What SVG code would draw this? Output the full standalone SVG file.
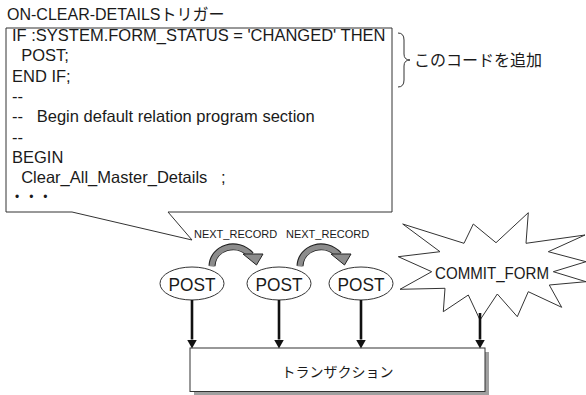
<svg xmlns="http://www.w3.org/2000/svg" width="586" height="395" viewBox="0 0 586 395">
  <style>
    .lat { font-family: "Liberation Sans", Arial, "Noto Sans CJK JP", sans-serif; fill: #1a1a1a; }
    .jp { font-family: "Noto Sans CJK JP", "Liberation Sans", sans-serif; fill: #1a1a1a; }
    .code { font-size: 16.5px; white-space: pre; }
    .frame { fill: #fff; stroke: #333; stroke-width: 1; }
    .flow { stroke: #111; stroke-width: 2.6; fill: none; }
    .bend-edge { fill: none; stroke: #222; stroke-width: 7; }
    .bend-core { fill: none; stroke: #8c8c8c; stroke-width: 5; }
    .bend-head { fill: #8c8c8c; stroke: #222; stroke-width: 1; stroke-linejoin: round; }
  </style>
  <defs>
    <marker id="head" markerUnits="userSpaceOnUse" markerWidth="11" markerHeight="11" refX="0" refY="5" orient="auto">
      <path d="M0,0 L9,5 L0,10 Z" fill="#111"/>
    </marker>
    <!-- curved gray step arrow between records -->
    <g id="bend">
      <path class="bend-edge" d="M212,266 C213,247 237,240 251,255"/>
      <path class="bend-core" d="M212,266.5 C213,247 237,240 251,255"/>
      <polygon class="bend-head" points="243,254 263,254 256.5,265"/>
    </g>
  </defs>

  <!-- trigger code callout -->
  <g id="trigger">
    <text class="lat" x="7" y="20" font-size="16">ON-CLEAR-DETAILSトリガー</text>
    <path class="frame" d="M6,28 H392 V212 H168 L192,240 L72,212 H6 Z"/>
    <g class="lat code">
      <text x="12" y="41" xml:space="preserve">IF :SYSTEM.FORM_STATUS = 'CHANGED' THEN</text>
      <text x="12" y="61.3" xml:space="preserve">  POST;</text>
      <text x="12" y="81.6" xml:space="preserve">END IF;</text>
      <text x="12" y="101.9" xml:space="preserve">--</text>
      <text x="12" y="122.2" xml:space="preserve">--   Begin default relation program section</text>
      <text x="12" y="142.5" xml:space="preserve">--</text>
      <text x="12" y="162.8" xml:space="preserve">BEGIN</text>
      <text x="12" y="183.1" xml:space="preserve">  Clear_All_Master_Details   ;</text>
      <text x="15" y="201" font-size="12" letter-spacing="3.3" xml:space="preserve">• • •</text>
    </g>
  </g>

  <!-- note on the added lines -->
  <g id="note">
    <path d="M398,33 Q404,33 404,40 L404,54 Q404,60 410,60 Q404,60 404,66 L404,80 Q404,87 398,87" fill="none" stroke="#333" stroke-width="1"/>
    <text class="jp" x="414" y="66" font-size="16">このコードを追加</text>
  </g>

  <!-- record labels and moves -->
  <g id="moves">
    <text class="lat" x="194" y="238" font-size="11">NEXT_RECORD</text>
    <text class="lat" x="286" y="238" font-size="11">NEXT_RECORD</text>
    <use href="#bend"/>
    <use href="#bend" x="88"/>
  </g>

  <!-- POST nodes -->
  <g id="post1">
    <ellipse class="frame" cx="192" cy="283.5" rx="32" ry="16.5"/>
    <text class="lat" x="192" y="291" font-size="18" text-anchor="middle" textLength="47" lengthAdjust="spacingAndGlyphs">POST</text>
  </g>
  <g id="post2">
    <ellipse class="frame" cx="279" cy="283.5" rx="32" ry="16.5"/>
    <text class="lat" x="279" y="291" font-size="18" text-anchor="middle" textLength="47" lengthAdjust="spacingAndGlyphs">POST</text>
  </g>
  <g id="post3">
    <ellipse class="frame" cx="361" cy="283.5" rx="32" ry="16.5"/>
    <text class="lat" x="361" y="291" font-size="18" text-anchor="middle" textLength="47" lengthAdjust="spacingAndGlyphs">POST</text>
  </g>

  <!-- COMMIT_FORM burst -->
  <g id="commit">
    <polygon class="frame" points="402.7,224 464,243.3 473.3,224 496,242.7 528.3,212.7 526,243.3 585,235 548.3,251.7 586,261.7 553.3,271.7 586,281.7 549.3,285 561.7,307.3 528.3,291.7 517.3,316.7 497.3,294 480,320 468.3,295 443.3,311.7 445,288.3 400,289.3 431.7,271.7 398.3,256.7 440,251.7"/>
    <text class="lat" x="492" y="279" font-size="17" text-anchor="middle" textLength="114" lengthAdjust="spacingAndGlyphs">COMMIT_FORM</text>
  </g>

  <!-- transaction -->
  <g id="transaction">
    <rect x="194" y="352" width="295" height="43" fill="#a0a0a0"/>
    <rect class="frame" x="190" y="348" width="295" height="43.5"/>
    <text class="jp" x="337.5" y="377" font-size="14" text-anchor="middle">トランザクション</text>
  </g>

  <!-- connectors into the transaction -->
  <g id="connectors">
    <line class="flow" x1="192" y1="300" x2="192" y2="339.5" marker-end="url(#head)"/>
    <line class="flow" x1="279" y1="300" x2="279" y2="339.5" marker-end="url(#head)"/>
    <line class="flow" x1="361" y1="300" x2="361" y2="339.5" marker-end="url(#head)"/>
    <line class="flow" x1="480" y1="313" x2="480" y2="339.5" marker-end="url(#head)"/>
  </g>
</svg>
